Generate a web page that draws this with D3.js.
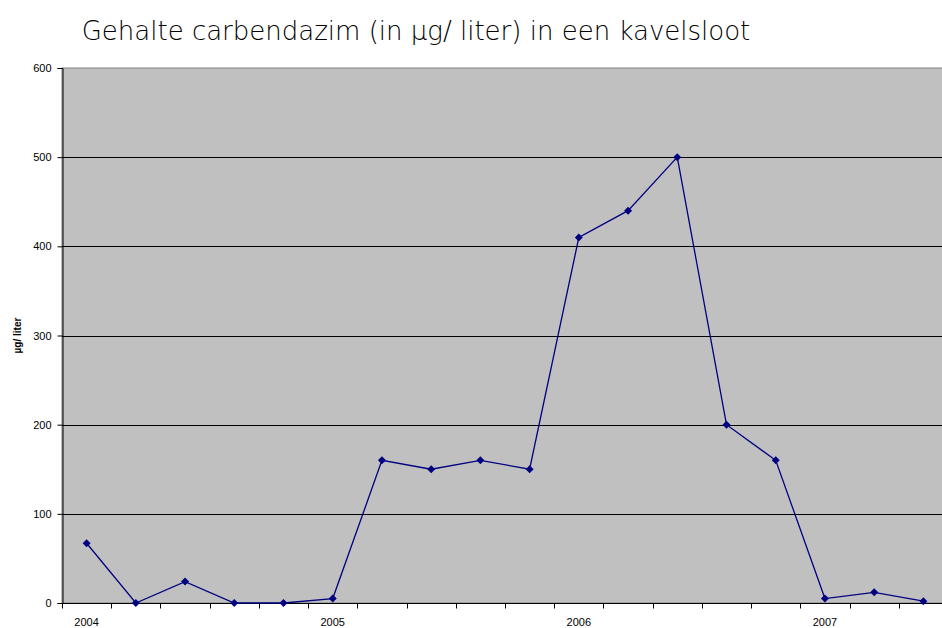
<!DOCTYPE html>
<html>
<head>
<meta charset="utf-8">
<script src="https://cdnjs.cloudflare.com/ajax/libs/d3/7.8.5/d3.min.js"></script>
<style>
  body { margin: 0; background: #fff; }
  svg { display: block; font-family: Arial, "Liberation Sans", sans-serif; }
</style>
</head>
<body>
<script>
// measurements, one per sampling moment
const samples = d3.range(18)
const values = [67, 0, 24, 0, 0, 5, 160, 150, 160, 150, 410, 440, 500, 200, 160, 5, 12, 2]
// year labels sit under every 5th sample
const yearLabels = { 0: '2004', 5: '2005', 10: '2006', 15: '2007' }
const yTicks = [0, 100, 200, 300, 400, 500, 600]

const width = 942, height = 628
const margin = { top: 68, right: -6, bottom: 25, left: 62 }

const svg = d3.select('body').append('svg')
    .attr('width', width)
    .attr('height', height)

const xScale = d3.scaleBand()
    .domain(samples)
    .range([margin.left, width - margin.right])
    .padding(0)

const yScale = d3.scaleLinear()
    .domain([0, 600])
    .range([height - margin.bottom, margin.top])

// plot background
svg.append('rect')
    .attr('x', margin.left)
    .attr('y', margin.top)
    .attr('width', width - margin.right - margin.left)
    .attr('height', yScale(0) - margin.top)
    .attr('fill', '#c0c0c0')
    .attr('stroke', '#808080')

// gridlines
svg.append('g').selectAll('line')
    .data(yTicks.filter(d => d > 0 && d < 600))
    .join('line')
    .attr('x1', margin.left)
    .attr('x2', width)
    .attr('y1', d => Math.round(yScale(d)) + 0.5)
    .attr('y2', d => Math.round(yScale(d)) + 0.5)
    .attr('stroke', '#000')

// y axis
const yAxis = svg.append('g')
    .attr('transform', 'translate(' + (margin.left + 0.5) + ',0)')
    .call(d3.axisLeft(yScale).tickValues(yTicks).tickSize(5).tickPadding(6))
yAxis.selectAll('text').attr('font-size', 11).attr('fill', '#000')
    .attr('font-family', 'Arial, "Liberation Sans", sans-serif')
yAxis.select('.domain').attr('stroke', '#000')

// x axis: ticks at category boundaries
const xAxisG = svg.append('g')
    .attr('transform', 'translate(0,' + (yScale(0) + 0.5) + ')')
xAxisG.append('line')
    .attr('x1', margin.left).attr('x2', width)
    .attr('stroke', '#000')
xAxisG.selectAll('.tick')
    .data(samples)
    .join('line')
    .attr('class', 'tick')
    .attr('x1', d => Math.round(xScale(d)) + 0.5)
    .attr('x2', d => Math.round(xScale(d)) + 0.5)
    .attr('y1', 0).attr('y2', 5)
    .attr('stroke', '#000')
xAxisG.selectAll('text')
    .data(Object.keys(yearLabels))
    .join('text')
    .attr('x', d => xScale(+d) + xScale.bandwidth() / 2)
    .attr('y', 22)
    .attr('text-anchor', 'middle')
    .attr('font-size', 11)
    .text(d => yearLabels[d])

// line
const line = d3.line()
    .x((d, i) => xScale(i) + xScale.bandwidth() / 2)
    .y(d => yScale(d))

svg.append('path')
    .datum(values)
    .attr('d', line)
    .attr('fill', 'none')
    .attr('stroke', '#000080')
    .attr('stroke-width', 1.3)

// diamond markers
svg.selectAll('.dot')
    .data(values)
    .join('path')
    .attr('class', 'dot')
    .attr('transform', (d, i) => 'translate(' + (xScale(i) + xScale.bandwidth() / 2) + ',' + yScale(d) + ')')
    .attr('d', 'M0,-4L4,0L0,4L-4,0Z')
    .attr('fill', '#000080')

// y axis title
svg.append('text')
    .attr('transform', 'translate(21,' + yScale(300) + ') rotate(-90)')
    .attr('text-anchor', 'middle')
    .attr('font-size', 10)
    .attr('font-weight', 'bold')
    .text('µg/ liter')

// chart title
svg.append('text')
    .attr('x', 416)
    .attr('y', 40)
    .attr('text-anchor', 'middle')
    .attr('font-size', 26)
    .attr('font-family', '"DejaVu Sans", sans-serif')
    .attr('font-weight', 300)
    .text('Gehalte carbendazim (in µg/ liter) in een kavelsloot')
</script>
</body>
</html>
